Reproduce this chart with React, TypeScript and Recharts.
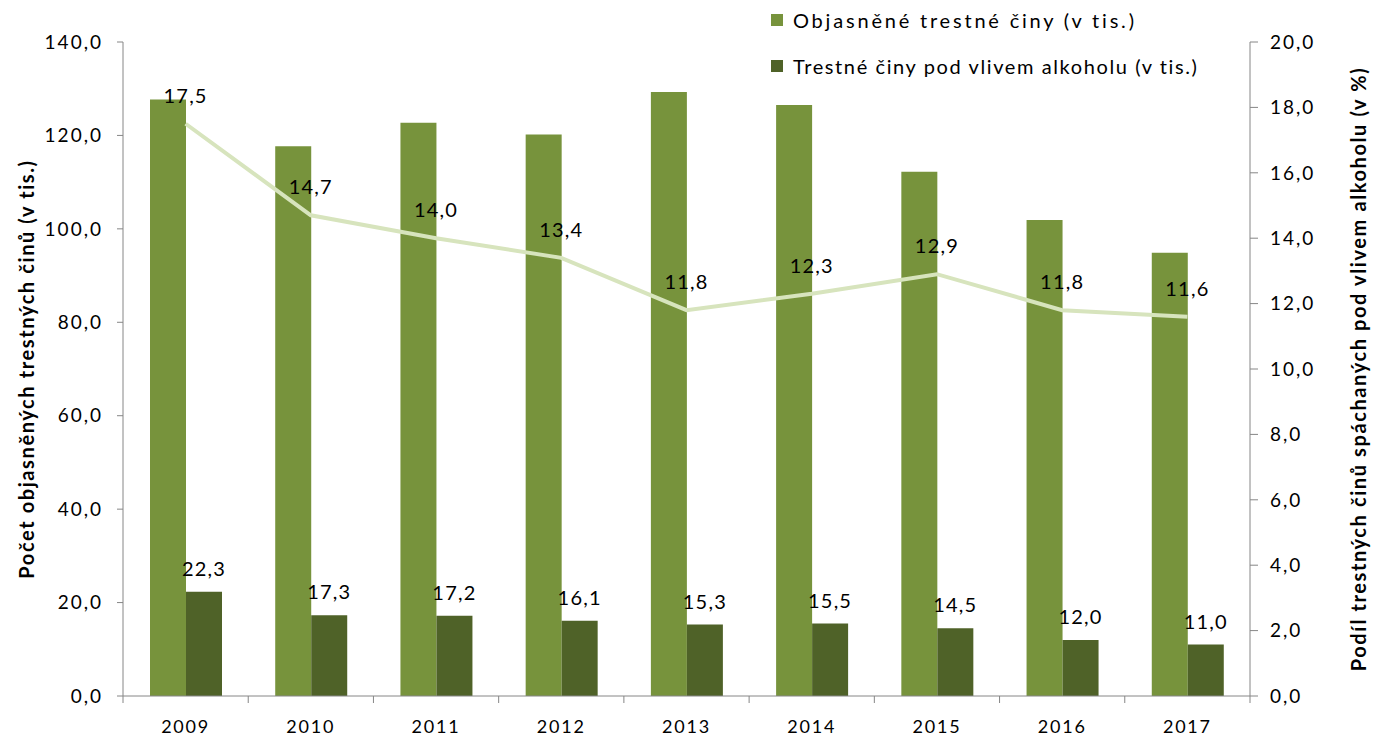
import {
  Bar,
  ComposedChart,
  LabelList,
  Line,
  XAxis,
  YAxis,
} from "recharts";

const years = ["2009", "2010", "2011", "2012", "2013", "2014", "2015", "2016", "2017"];
const solvedCrimes = [127.7, 117.7, 122.7, 120.2, 129.3, 126.5, 112.2, 101.9, 94.9];
const alcoholCrimes = [22.3, 17.3, 17.2, 16.1, 15.3, 15.5, 14.5, 12.0, 11.0];
const alcoholShare = [17.5, 14.7, 14.0, 13.4, 11.8, 12.3, 12.9, 11.8, 11.6];
const leftTicks = [0, 20, 40, 60, 80, 100, 120, 140];
const rightTicks = [0, 2, 4, 6, 8, 10, 12, 14, 16, 18, 20];

const seriesNames = [
  "Objasněné trestné činy (v tis.)",
  "Trestné činy pod vlivem alkoholu (v tis.)",
];
const seriesColors = ["#77933c", "#4f6228"];

const data = years.map((year, i) => ({
  year,
  solved: solvedCrimes[i],
  alcohol: alcoholCrimes[i],
  share: alcoholShare[i],
}));

const FONT = "Lato, 'Open Sans', sans-serif";
const AXIS = "#868686";

const fmt = (v: number | string) => Number(v).toFixed(1).replace(".", ",");

const tickStyle = { fill: "#000", fontSize: 19, fontFamily: FONT, letterSpacing: 2 };
const valueStyle = { fill: "#000", fontSize: 20, fontFamily: FONT, letterSpacing: 1.2 };
const titleStyle = {
  textAnchor: "middle" as const,
  fontFamily: FONT,
  fontWeight: 700,
  fontSize: 20,
  letterSpacing: 1.6,
  fill: "#000",
};

function YearTick(props: any) {
  const { x, y, payload, index, visibleTicksCount } = props;
  const half = payload?.offset ?? 62.6;
  const isLast = index === (visibleTicksCount ?? years.length) - 1;
  return (
    <g>
      <line x1={x - half} x2={x - half} y1={y} y2={y + 7} stroke={AXIS} />
      {isLast && <line x1={x + half} x2={x + half} y1={y} y2={y + 7} stroke={AXIS} />}
      <text
        x={x}
        y={y + 37}
        textAnchor="middle"
        fill="#000"
        fontSize={18}
        fontFamily={FONT}
        letterSpacing={1.8}
      >
        {payload.value}
      </text>
    </g>
  );
}

function SideLegend() {
  return (
    <div
      style={{
        position: "absolute",
        left: 771,
        top: 8,
        fontFamily: FONT,
        fontSize: 20,
        color: "#000",
      }}
    >
      {seriesNames.map((name, i) => (
        <div
          key={name}
          style={{
            display: "flex",
            alignItems: "center",
            height: 24,
            marginBottom: i === 0 ? 22 : 0,
            letterSpacing: i === 0 ? 2.8 : 1.6,
          }}
        >
          <span
            style={{
              display: "inline-block",
              width: 12,
              height: 12,
              background: seriesColors[i],
              marginRight: 10,
            }}
          />
          <span style={{ whiteSpace: "nowrap" }}>{name}</span>
        </div>
      ))}
    </div>
  );
}

export default function App() {
  return (
    <div style={{ position: "fixed", left: 0, top: 0, width: 1376, height: 742, background: "#fff" }}>
      <ComposedChart
        width={1376}
        height={742}
        data={data}
        margin={{ top: 42, right: 0, bottom: 0, left: 0 }}
        barGap={0}
      >
        <XAxis
          dataKey="year"
          xAxisId="x"
          height={46}
          stroke={AXIS}
          tickLine={false}
          tickSize={0}
          tickMargin={0}
          tick={<YearTick />}
          interval={0}
        />
        <YAxis
          yAxisId="left"
          width={123}
          domain={[0, 140]}
          ticks={leftTicks}
          tickFormatter={fmt}
          stroke={AXIS}
          tickSize={6}
          tickMargin={14}
          tick={tickStyle}
          label={{
            value: "Počet objasněných  trestných činů (v tis.)",
            angle: -90,
            position: "insideLeft",
            offset: 27,
            style: titleStyle,
          }}
        />
        <YAxis
          yAxisId="right"
          orientation="right"
          width={126}
          domain={[0, 20]}
          ticks={rightTicks}
          tickFormatter={fmt}
          stroke={AXIS}
          tickSize={8}
          tickMargin={12}
          tick={tickStyle}
          label={{
            value: "Podíl trestných činů spáchaných  pod vlivem alkoholu (v %)",
            angle: -90,
            position: "insideRight",
            offset: 17,
            style: titleStyle,
          }}
        />
        <Bar
          xAxisId="x"
          yAxisId="left"
          dataKey="solved"
          name={seriesNames[0]}
          fill={seriesColors[0]}
          barSize={36}
          isAnimationActive={false}
        />
        <Bar
          xAxisId="x"
          yAxisId="left"
          dataKey="alcohol"
          name={seriesNames[1]}
          fill={seriesColors[1]}
          barSize={36}
          isAnimationActive={false}
        >
          <LabelList dataKey="alcohol" position="top" offset={16} formatter={fmt} style={valueStyle} />
        </Bar>
        <Line
          xAxisId="x"
          yAxisId="right"
          dataKey="share"
          stroke="#d7e4bd"
          strokeWidth={4}
          dot={false}
          activeDot={false}
          legendType="none"
          isAnimationActive={false}
        >
          <LabelList dataKey="share" position="top" offset={21} formatter={fmt} style={valueStyle} />
        </Line>
      </ComposedChart>
      <SideLegend />
    </div>
  );
}
